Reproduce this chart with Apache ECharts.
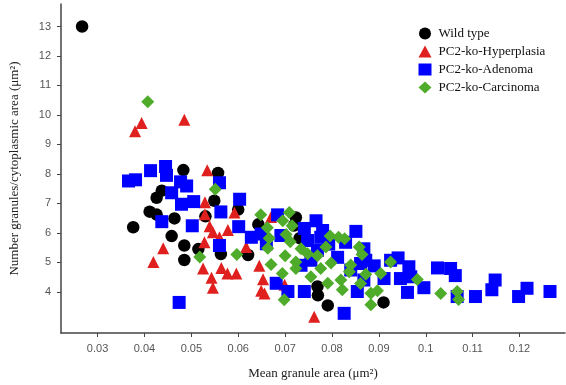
<html>
<head>
    <meta charset="utf-8">
    <title>Granule scatter</title>
    <script src="https://cdn.jsdelivr.net/npm/echarts@6/dist/echarts.min.js"></script>
    <style>
        html, body { margin: 0; padding: 0; background: #fff; }
        #main { width: 566px; height: 385px; }
    </style>
</head>
<body>
<div id="main"></div>
<script>
    // [mean granule area, granules / cytoplasmic area]
    var wildType = [
        [0.0267, 13.0], [0.0483, 8.13], [0.0557, 8.03], [0.0437, 7.43], [0.0426, 7.19],
        [0.0411, 6.72], [0.0426, 6.62], [0.0464, 6.49], [0.0376, 6.19], [0.0458, 5.89],
        [0.0485, 5.57], [0.0485, 5.08], [0.0515, 5.45], [0.0549, 7.09], [0.0530, 6.56],
        [0.0600, 6.79], [0.0563, 5.28], [0.0621, 5.25], [0.0643, 6.29], [0.0723, 6.52],
        [0.0731, 5.82], [0.0719, 6.25], [0.0769, 4.18], [0.0770, 3.88], [0.0791, 3.54],
        [0.0910, 3.64]
    ];
    var hyperplasia = [
        [0.0394, 9.73], [0.0380, 9.45], [0.0485, 9.84], [0.0534, 8.12], [0.0529, 7.04],
        [0.0529, 6.63], [0.0539, 6.22], [0.0546, 6.02], [0.0560, 5.85], [0.0578, 6.10],
        [0.0592, 6.69], [0.0528, 5.68], [0.0440, 5.48], [0.0419, 5.01], [0.0525, 4.79],
        [0.0543, 4.48], [0.0546, 4.14], [0.0564, 4.81], [0.0577, 4.62], [0.0596, 4.62],
        [0.0617, 5.52], [0.0645, 4.88], [0.0653, 4.43], [0.0649, 4.04], [0.0656, 3.94],
        [0.0670, 6.54], [0.0762, 3.15], [0.0699, 4.24]
    ];
    var adenoma = [
        [0.0366, 7.76], [0.0381, 7.80], [0.0413, 8.11], [0.0445, 8.25], [0.0447, 7.95],
        [0.0477, 7.73], [0.0490, 7.59], [0.0458, 7.36], [0.0479, 6.97], [0.0505, 7.06],
        [0.0560, 7.70], [0.0603, 7.14], [0.0563, 6.71], [0.0437, 6.38], [0.0502, 6.24],
        [0.0474, 3.64], [0.0601, 6.21], [0.0628, 5.85], [0.0560, 5.57], [0.0684, 6.61],
        [0.0681, 4.29], [0.0706, 4.01], [0.0741, 4.01], [0.0741, 6.15], [0.0691, 5.91],
        [0.0660, 5.63], [0.0766, 6.41], [0.0780, 6.08], [0.0851, 6.05], [0.0748, 5.74],
        [0.0769, 5.41], [0.0812, 5.17], [0.0868, 5.46], [0.0872, 5.07], [0.0840, 4.74],
        [0.0890, 4.88], [0.0911, 4.45], [0.0941, 5.15], [0.0964, 4.85], [0.0968, 4.51],
        [0.0961, 3.98], [0.0996, 4.14], [0.1025, 4.81], [0.1053, 4.79], [0.1063, 4.55],
        [0.1067, 3.84], [0.1106, 3.84], [0.1141, 4.07], [0.1148, 4.40], [0.1198, 3.84],
        [0.1216, 4.12], [0.1265, 4.01], [0.0826, 3.27], [0.0649, 5.96], [0.0776, 5.85],
        [0.0734, 4.90], [0.0755, 5.07], [0.0861, 4.96], [0.0925, 5.07], [0.0854, 4.01],
        [0.0868, 4.40], [0.0946, 4.45], [0.0793, 5.62], [0.0829, 5.68]
    ];
    var carcinoma = [
        [0.0407, 10.45], [0.0551, 7.48], [0.0518, 5.18], [0.0597, 5.27], [0.0648, 6.61],
        [0.0662, 6.17], [0.0666, 5.82], [0.0663, 5.48], [0.0670, 4.93], [0.0694, 4.62],
        [0.0695, 6.41], [0.0709, 6.69], [0.0715, 6.24], [0.0702, 5.94], [0.0711, 5.70],
        [0.0700, 5.22], [0.0723, 5.01], [0.0734, 5.46], [0.0748, 5.29], [0.0698, 3.73],
        [0.0755, 4.51], [0.0769, 5.22], [0.0787, 5.52], [0.0796, 5.89], [0.0814, 5.85],
        [0.0827, 5.80], [0.0798, 4.98], [0.0776, 4.79], [0.0819, 4.40], [0.0840, 4.91],
        [0.0858, 5.52], [0.0864, 5.27], [0.0872, 4.60], [0.0861, 4.28], [0.0897, 4.04],
        [0.0883, 3.56], [0.0883, 3.95], [0.0925, 5.01], [0.0982, 4.42], [0.1032, 3.94],
        [0.1067, 4.01], [0.1070, 3.74], [0.0822, 4.07], [0.0791, 4.29], [0.0723, 4.79],
        [0.0904, 4.62], [0.0837, 4.68]
    ];
    var xTicks = [0.03, 0.04, 0.05, 0.06, 0.07, 0.08, 0.09, 0.10, 0.11, 0.12];
    var yTicks = [4, 5, 6, 7, 8, 9, 10, 11, 12, 13];

    var myChart = echarts.init(document.getElementById('main'));

    var serif = '"Liberation Serif", "DejaVu Serif", serif';
    var sans = '"Liberation Sans", Arial, sans-serif';

    var option = {
        animation: false,
        backgroundColor: '#fff',
        grid: { left: 59, right: 1, top: 4, bottom: 48 },
        legend: {
            orient: 'vertical',
            left: 413.5,
            top: 22,
            itemWidth: 13,
            itemHeight: 12,
            itemGap: 5,
            textStyle: { fontFamily: serif, fontSize: 13, color: '#111', lineHeight: 12, padding: [0, 0, 0, 2] },
            data: ['Wild type', 'PC2-ko-Hyperplasia', 'PC2-ko-Adenoma', 'PC2-ko-Carcinoma']
        },
        xAxis: {
            type: 'value',
            min: 0.0222,
            max: 0.1297,
            name: 'Mean granule area (μm²)',
            nameLocation: 'middle',
            nameGap: 34,
            nameTextStyle: { fontFamily: serif, fontSize: 13, color: '#222' },
            axisLine: { lineStyle: { color: '#444', width: 1.5 } },
            axisTick: { show: true, length: 4, customValues: xTicks, lineStyle: { color: '#444' } },
            axisLabel: {
                customValues: xTicks,
                margin: 10,
                fontFamily: sans,
                fontSize: 11,
                color: '#555',
                formatter: function (v) { return String(+v.toFixed(2)); }
            },
            splitLine: { show: false }
        },
        yAxis: {
            type: 'value',
            min: 2.603,
            max: 13.763,
            name: 'Number granules/cytoplasmic area (μm²)',
            nameLocation: 'middle',
            nameGap: 40,
            nameTextStyle: { fontFamily: serif, fontSize: 13, color: '#222' },
            axisLine: { show: true, lineStyle: { color: '#444', width: 1.5 } },
            axisTick: { show: true, length: 4, customValues: yTicks, lineStyle: { color: '#444' } },
            axisLabel: {
                customValues: yTicks,
                margin: 10,
                fontFamily: sans,
                fontSize: 11,
                color: '#555'
            },
            splitLine: { show: false }
        },
        series: [
            {
                name: 'Wild type', type: 'scatter', symbol: 'circle', symbolSize: 12.5,
                itemStyle: { color: '#000', opacity: 1 }, data: wildType
            },
            {
                name: 'PC2-ko-Hyperplasia', type: 'scatter', symbol: 'triangle', symbolSize: 12,
                itemStyle: { color: '#e0201e', opacity: 1 }, data: hyperplasia
            },
            {
                name: 'PC2-ko-Adenoma', type: 'scatter', symbol: 'rect', symbolSize: 13,
                itemStyle: { color: '#0000ff', opacity: 1 }, data: adenoma
            },
            {
                name: 'PC2-ko-Carcinoma', type: 'scatter', symbol: 'diamond', symbolSize: 13,
                itemStyle: { color: '#4fac2b', opacity: 1 }, data: carcinoma
            }
        ]
    };

    myChart.setOption(option);
</script>
</body>
</html>
